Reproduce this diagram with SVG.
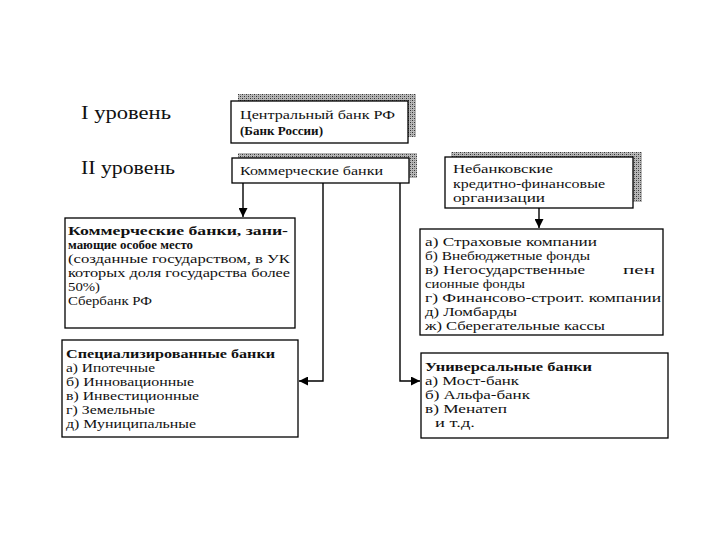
<svg xmlns="http://www.w3.org/2000/svg" width="720" height="540" viewBox="0 0 720 540">
<defs>
<pattern id="hatch" width="4" height="4" patternUnits="userSpaceOnUse">
<rect width="4" height="4" fill="#b8b8b8"/>
<rect x="0" y="0" width="1" height="1" fill="#333"/>
<rect x="2" y="2" width="1" height="1" fill="#333"/>
<rect x="2" y="0" width="1" height="1" fill="#777"/>
<rect x="0" y="2" width="1" height="1" fill="#777"/>
</pattern>
<marker id="arr" viewBox="0 0 10 10" refX="10" refY="5" markerWidth="9" markerHeight="9" markerUnits="userSpaceOnUse" orient="auto">
<path d="M0,0 L10,5 L0,10 Z" fill="#000"/>
</marker>
<style>
.box{fill:#fff;stroke:#000;stroke-width:1.3}
.shadow{fill:url(#hatch);stroke:none}
.t{font-family:"Liberation Serif","Times New Roman",serif;font-size:12.5px;fill:#111}
.b{font-weight:bold}
.lvl{font-family:"Liberation Serif","Times New Roman",serif;font-size:18px;fill:#111}
.con{fill:none;stroke:#000;stroke-width:1.4}
</style>
</defs>
<rect width="720" height="540" fill="#fff"/>

<g id="level1"><text class="lvl" x="81" y="119" textLength="90" lengthAdjust="spacingAndGlyphs">I  уровень</text></g>
<g id="level2"><text class="lvl" x="81" y="174" textLength="94" lengthAdjust="spacingAndGlyphs">II уровень</text></g>

<g id="central-bank">
<rect class="shadow" x="238" y="94" width="178" height="43"/>
<rect class="box" x="231" y="101" width="177" height="42"/>
<text class="t" x="240" y="119" textLength="155" lengthAdjust="spacingAndGlyphs">Центральный банк РФ</text>
<text class="t b" x="240" y="135" textLength="83" lengthAdjust="spacingAndGlyphs">(Банк России)</text>
</g>

<g id="commercial-banks">
<rect class="shadow" x="238" y="153" width="179" height="25"/>
<rect class="box" x="232" y="158" width="177" height="25"/>
<text class="t" x="240" y="175" textLength="143" lengthAdjust="spacingAndGlyphs">Коммерческие банки</text>
</g>

<g id="nonbank">
<rect class="shadow" x="451" y="152" width="191" height="50"/>
<rect class="box" x="445" y="157" width="188" height="51"/>
<text class="t" x="453" y="173" textLength="100" lengthAdjust="spacingAndGlyphs">Небанковские</text>
<text class="t" x="453" y="188" textLength="152" lengthAdjust="spacingAndGlyphs">кредитно-финансовые</text>
<text class="t" x="453" y="202" textLength="92" lengthAdjust="spacingAndGlyphs">организации</text>
</g>

<g id="special-place">
<rect class="box" x="65" y="218" width="230" height="110"/>
<text class="t b" x="68" y="235" textLength="220" lengthAdjust="spacingAndGlyphs">Коммерческие банки, зани-</text>
<text class="t b" x="68" y="249" textLength="125" lengthAdjust="spacingAndGlyphs">мающие особое место</text>
<text class="t" x="68" y="263" textLength="222" lengthAdjust="spacingAndGlyphs">(созданные государством, в УК</text>
<text class="t" x="68" y="277" textLength="222" lengthAdjust="spacingAndGlyphs">которых доля государства более</text>
<text class="t" x="68" y="291" textLength="32" lengthAdjust="spacingAndGlyphs">50%)</text>
<text class="t" x="68" y="305" textLength="84" lengthAdjust="spacingAndGlyphs">Сбербанк РФ</text>
</g>

<g id="nonbank-list">
<rect class="box" x="420" y="229" width="243" height="106"/>
<text class="t" x="425" y="246" textLength="172" lengthAdjust="spacingAndGlyphs">а) Страховые компании</text>
<text class="t" x="425" y="260" textLength="165" lengthAdjust="spacingAndGlyphs">б) Внебюджетные фонды</text>
<text class="t" x="425" y="274" textLength="160" lengthAdjust="spacingAndGlyphs">в) Негосударственные</text>
<text class="t" x="623" y="274" textLength="32" lengthAdjust="spacingAndGlyphs">пен</text>
<text class="t" x="425" y="288" textLength="100" lengthAdjust="spacingAndGlyphs">сионные фонды</text>
<text class="t" x="425" y="302" textLength="236" lengthAdjust="spacingAndGlyphs">г) Финансово-строит. компании</text>
<text class="t" x="425" y="316" textLength="92" lengthAdjust="spacingAndGlyphs">д) Ломбарды</text>
<text class="t" x="425" y="330" textLength="180" lengthAdjust="spacingAndGlyphs">ж) Сберегательные кассы</text>
</g>

<g id="specialized">
<rect class="box" x="62" y="340" width="236" height="97"/>
<text class="t b" x="66" y="358" textLength="209" lengthAdjust="spacingAndGlyphs">Специализированные банки</text>
<text class="t" x="66" y="372" textLength="89" lengthAdjust="spacingAndGlyphs">а) Ипотечные</text>
<text class="t" x="66" y="386" textLength="128" lengthAdjust="spacingAndGlyphs">б) Инновационные</text>
<text class="t" x="66" y="400" textLength="133" lengthAdjust="spacingAndGlyphs">в) Инвестиционные</text>
<text class="t" x="66" y="414" textLength="89" lengthAdjust="spacingAndGlyphs">г) Земельные</text>
<text class="t" x="66" y="428" textLength="130" lengthAdjust="spacingAndGlyphs">д) Муниципальные</text>
</g>

<g id="universal">
<rect class="box" x="421" y="353" width="247" height="85"/>
<text class="t b" x="425" y="371" textLength="167" lengthAdjust="spacingAndGlyphs">Универсальные банки</text>
<text class="t" x="425" y="385" textLength="94" lengthAdjust="spacingAndGlyphs">а) Мост-банк</text>
<text class="t" x="425" y="399" textLength="105" lengthAdjust="spacingAndGlyphs">б) Альфа-банк</text>
<text class="t" x="425" y="413" textLength="82" lengthAdjust="spacingAndGlyphs">в) Менатеп</text>
<text class="t" x="435" y="427" textLength="40" lengthAdjust="spacingAndGlyphs">и т.д.</text>
</g>

<g id="connectors">
<path class="con" d="M243,183 V217" marker-end="url(#arr)"/>
<path class="con" d="M323,183 V381 H299" marker-end="url(#arr)"/>
<path class="con" d="M400,183 V381 H420" marker-end="url(#arr)"/>
<path class="con" d="M539,208 V228" marker-end="url(#arr)"/>
</g>
</svg>
